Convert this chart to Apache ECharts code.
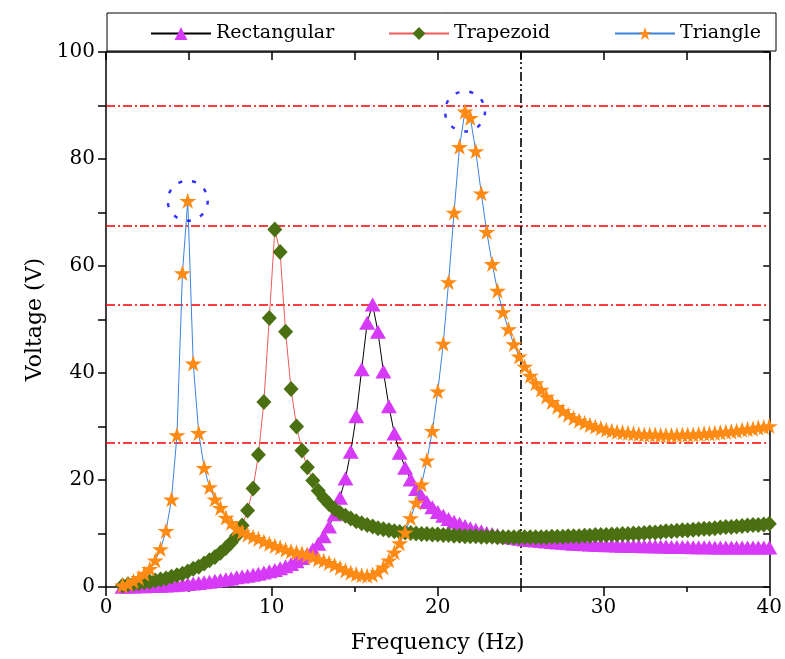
<!DOCTYPE html>
<html><head><meta charset="utf-8">
<script src="https://cdn.jsdelivr.net/npm/echarts@6/dist/echarts.min.js"></script>
<style>html,body{margin:0;padding:0;background:#fff}#c{width:785px;height:659px}</style>
</head><body><div id="c"></div>
<script>
// Frequency (Hz) sample points
const freq = [1.00,1.33,1.66,1.98,2.31,2.64,2.97,3.29,3.62,3.95,
4.28,4.61,4.93,5.26,5.59,5.92,6.24,6.57,6.90,7.23,
7.55,7.88,8.21,8.54,8.87,9.19,9.52,9.85,10.18,10.50,
10.83,11.16,11.49,11.82,12.14,12.47,12.80,13.13,13.45,13.78,
14.11,14.44,14.76,15.09,15.42,15.75,16.08,16.40,16.73,17.06,
17.39,17.71,18.04,18.37,18.70,19.03,19.35,19.68,20.01,20.34,
20.66,20.99,21.32,21.65,21.97,22.30,22.63,22.96,23.29,23.61,
23.94,24.27,24.60,24.92,25.25,25.58,25.91,26.24,26.56,26.89,
27.22,27.55,27.87,28.20,28.53,28.86,29.18,29.51,29.84,30.17,
30.50,30.82,31.15,31.48,31.81,32.13,32.46,32.79,33.12,33.45,
33.77,34.10,34.43,34.76,35.08,35.41,35.74,36.07,36.39,36.72,
37.05,37.38,37.71,38.03,38.36,38.69,39.02,39.34,39.67,40.00];

// Voltage (V)
const rectangular = [0.05,0.08,0.1,0.12,0.15,0.18,0.2,0.25,0.3,0.35,
0.4,0.45,0.55,0.65,0.75,0.9,1.0,1.15,1.3,1.45,
1.6,1.8,1.95,2.1,2.3,2.5,2.7,2.95,3.2,3.5,
3.9,4.3,4.8,5.4,6.1,7.0,8.1,9.5,11.3,13.6,
16.7,20.3,25.3,31.9,40.7,49.4,52.8,47.7,40.3,33.8,
28.7,25.1,22.3,20.1,18.3,17.0,15.9,14.9,14.0,13.3,
12.7,12.2,11.8,11.4,11.0,10.7,10.4,10.1,9.9,9.7,
9.5,9.3,9.2,9.0,8.9,8.8,8.7,8.6,8.5,8.4,
8.3,8.25,8.2,8.1,8.05,8.0,7.95,7.9,7.85,7.8,
7.8,7.75,7.7,7.7,7.65,7.65,7.6,7.6,7.6,7.55,
7.55,7.5,7.5,7.5,7.5,7.45,7.45,7.45,7.45,7.4,
7.4,7.4,7.4,7.4,7.4,7.4,7.4,7.4,7.4,7.4];

const trapezoid = [0.3,0.5,0.6,0.7,0.9,1.0,1.2,1.4,1.6,1.9,
2.2,2.5,2.9,3.4,3.8,4.4,5.0,5.6,6.4,7.3,
8.3,9.6,11.5,14.3,18.4,24.7,34.6,50.3,66.8,62.6,
47.7,37.0,30.0,25.5,22.4,19.9,18.0,16.6,15.5,14.6,
13.9,13.3,12.8,12.3,11.9,11.6,11.3,11.0,10.8,10.6,
10.4,10.3,10.2,10.1,10.0,9.9,9.9,9.8,9.8,9.7,
9.7,9.6,9.6,9.5,9.5,9.5,9.4,9.4,9.4,9.3,
9.3,9.3,9.3,9.3,9.3,9.3,9.3,9.3,9.3,9.4,
9.4,9.4,9.5,9.5,9.5,9.6,9.6,9.7,9.7,9.7,
9.8,9.8,9.9,9.9,10.0,10.0,10.1,10.2,10.2,10.3,
10.4,10.4,10.5,10.6,10.6,10.7,10.8,10.9,10.9,11.0,
11.1,11.2,11.2,11.3,11.4,11.5,11.6,11.6,11.7,11.8];

const triangle = [0.3,0.6,1.1,1.7,2.5,3.4,5.0,7.1,10.5,16.4,
28.4,58.7,72.2,41.8,28.8,22.3,18.7,16.4,14.8,13.0,
12.0,10.9,10.3,9.8,9.4,9.0,8.5,8.1,7.7,7.4,
7.0,6.7,6.5,6.3,6.0,5.6,5.2,4.9,4.5,4.1,
3.6,3.1,2.7,2.4,2.2,2.1,2.3,2.8,3.7,5.0,
6.5,8.2,10.2,12.9,15.8,19.2,23.7,29.2,36.6,45.5,
57.0,70.0,82.3,88.9,87.7,81.5,73.6,66.4,60.4,55.4,
51.4,48.2,45.4,43.1,41.2,39.5,38.1,36.9,35.6,34.6,
33.7,32.9,32.2,31.6,31.1,30.7,30.3,30.0,29.7,29.4,
29.2,29.0,28.9,28.8,28.7,28.6,28.5,28.5,28.5,28.4,
28.4,28.4,28.4,28.5,28.5,28.5,28.6,28.7,28.7,28.8,
28.9,29.0,29.1,29.2,29.4,29.5,29.6,29.8,29.9,30.1];

const seriesNames = ['Rectangular', 'Trapezoid', 'Triangle'];
const refLevels = [90, 67.5, 52.8, 27];   // red dash-dot horizontal levels (V)
const refFreq = 25;                       // black dash-dot vertical line (Hz)
const peakIdx = [12, 63];                 // circled peaks of the Triangle series

const pair = arr => arr.map((v, i) => [freq[i], v]);
const STAR = 'path://M50,0L61.8,35.1L97.6,35.1L68.5,56.7L79.4,90.5L50,69.1L20.6,90.5L31.5,56.7L2.4,35.1L38.2,35.1Z';
const FONT = 'DejaVu Serif';

const chart = echarts.init(document.getElementById('c'), null, {renderer: 'canvas'});
const legendBase = {
  top: 24, itemWidth: 60, itemHeight: 16, padding: 0,
  textStyle: {fontFamily: FONT, fontSize: 19, color: '#000'}
};
chart.setOption({
  animation: false,
  backgroundColor: '#fff',
  grid: {left: 106, right: 11, top: 52, bottom: 69},
  graphic: [{type: 'rect', shape: {x: 107, y: 13, width: 669, height: 38},
    style: {fill: 'none', stroke: '#000', lineWidth: 1}, z: 10}],
  legend: [
    Object.assign({data: [seriesNames[0]], left: 150}, legendBase),
    Object.assign({data: [seriesNames[1]], left: 388}, legendBase),
    Object.assign({data: [seriesNames[2]], left: 614}, legendBase)
  ],
  xAxis: [{
    type: 'value', min: 0, max: 40, interval: 10, position: 'bottom',
    name: 'Frequency (Hz)', nameLocation: 'middle', nameGap: 45,
    nameTextStyle: {fontFamily: FONT, fontSize: 22, color: '#000'},
    axisLine: {show: true, onZero: false, lineStyle: {color: '#000', width: 1.5}},
    axisTick: {show: true, length: 9, lineStyle: {color: '#000', width: 1.5}},
    minorTick: {show: true, splitNumber: 2, length: 5, lineStyle: {color: '#000', width: 1.5}},
    axisLabel: {fontFamily: FONT, fontSize: 20, color: '#000', margin: 11},
    splitLine: {show: false}
  }, {
    type: 'value', min: 0, max: 40, interval: 5, position: 'top',
    axisLine: {show: true, onZero: false, lineStyle: {color: '#000', width: 1.5}},
    axisTick: {show: true, inside: true, length: 8, lineStyle: {color: '#000', width: 1.5}},
    axisLabel: {show: false}, splitLine: {show: false}
  }],
  yAxis: [{
    type: 'value', min: 0, max: 100, interval: 20, position: 'left',
    name: 'Voltage (V)', nameLocation: 'middle', nameGap: 60,
    nameTextStyle: {fontFamily: FONT, fontSize: 22, color: '#000'},
    axisLine: {show: true, onZero: false, lineStyle: {color: '#000', width: 1.5}},
    axisTick: {show: true, length: 8, lineStyle: {color: '#000', width: 1.5}},
    minorTick: {show: true, splitNumber: 2, length: 8, lineStyle: {color: '#000', width: 1.5}},
    axisLabel: {fontFamily: FONT, fontSize: 20, color: '#000', margin: 11},
    splitLine: {show: false}
  }, {
    type: 'value', min: 0, max: 100, interval: 10, position: 'right',
    axisLine: {show: true, onZero: false, lineStyle: {color: '#000', width: 1.5}},
    axisTick: {show: true, inside: true, length: 6, lineStyle: {color: '#000', width: 1.5}},
    axisLabel: {show: false}, splitLine: {show: false}
  }],
  series: [{
    name: seriesNames[0], type: 'line', data: pair(rectangular),
    symbol: 'triangle', symbolSize: [16, 14],
    lineStyle: {color: '#000', width: 1}, itemStyle: {color: '#D63AF7'},
    emphasis: {disabled: true}, z: 2,
    markLine: {
      silent: true, symbol: 'none', z: 1, label: {show: false}, animation: false,
      data: refLevels.map(v => ({yAxis: v, lineStyle: {color: '#FF0000', type: [9, 3, 2, 3], width: 1.6}}))
        .concat([{xAxis: refFreq, lineStyle: {color: '#000', type: [9, 3, 2, 3, 2, 3], width: 1.6}}])
    }
  }, {
    name: seriesNames[1], type: 'line', data: pair(trapezoid),
    symbol: 'diamond', symbolSize: [15, 16],
    lineStyle: {color: '#F05A5A', width: 1}, itemStyle: {color: '#4A7012'},
    emphasis: {disabled: true}, z: 3
  }, {
    name: seriesNames[2], type: 'line', data: pair(triangle),
    symbol: STAR, symbolSize: 17, symbolKeepAspect: true,
    lineStyle: {color: '#3B83DD', width: 1}, itemStyle: {color: '#FF8A14'},
    emphasis: {disabled: true}, z: 4
  }, {
    name: 'peaks', type: 'scatter', silent: true,
    data: peakIdx.map(i => [freq[i], triangle[i]]),
    symbol: 'circle', symbolSize: 40,
    itemStyle: {color: 'rgba(0,0,0,0)', borderColor: '#0000FF', borderWidth: 2.5, borderType: [4, 10]},
    z: 5
  }]
});
</script></body></html>
